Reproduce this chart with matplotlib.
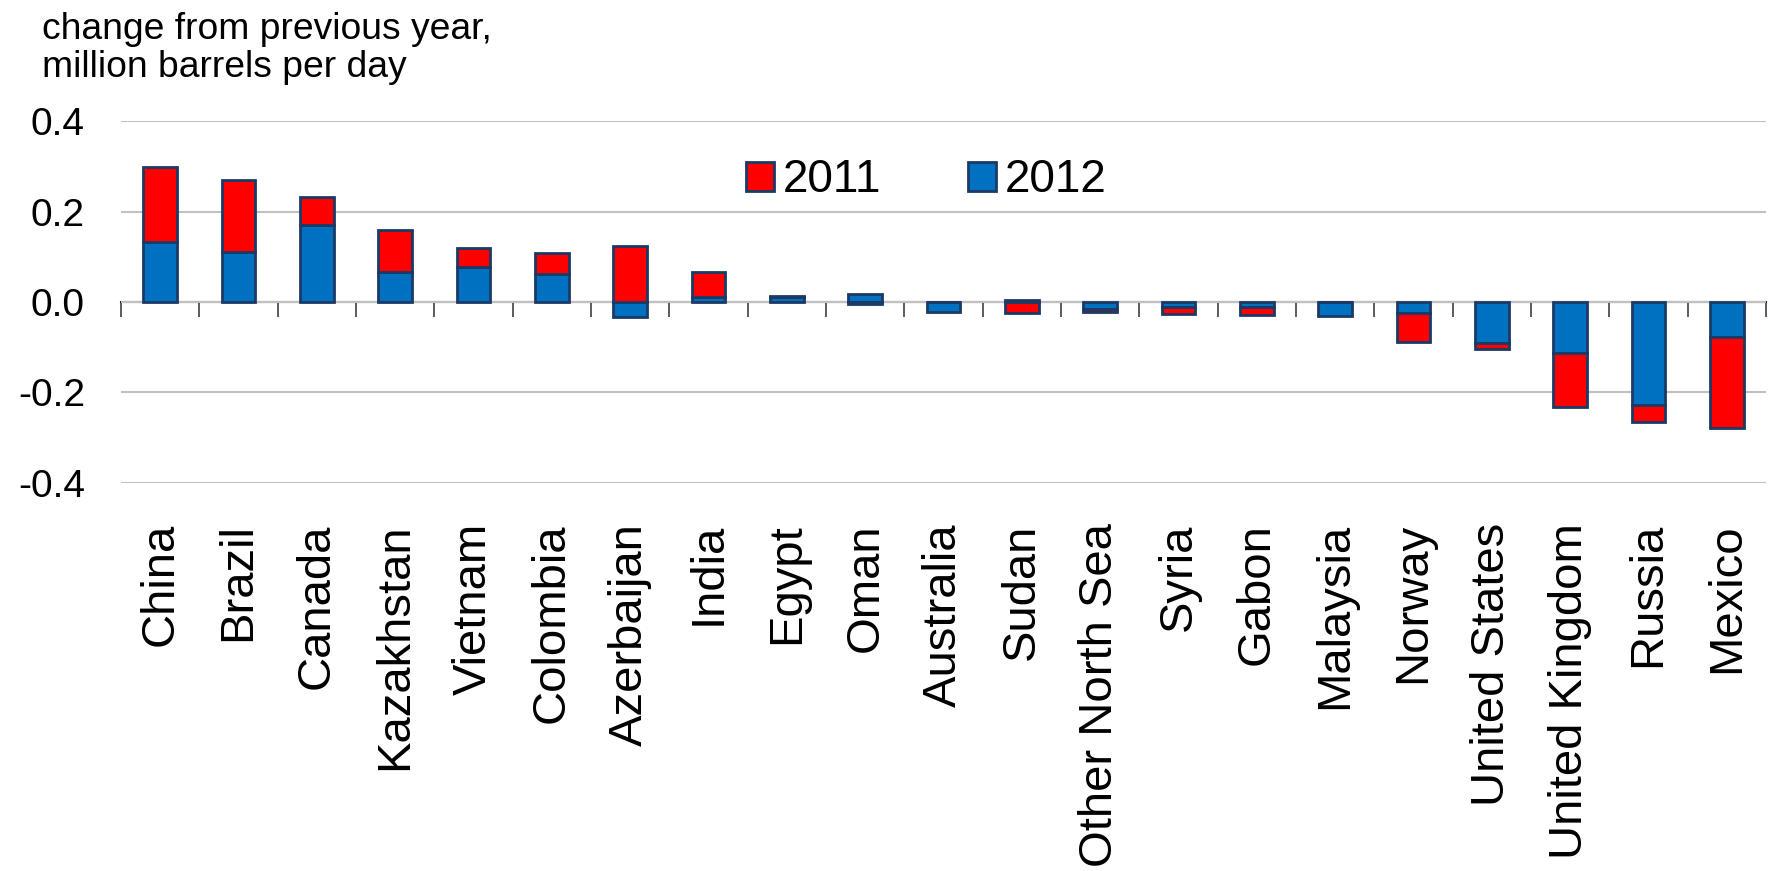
import numpy as np
import matplotlib
matplotlib.use("Agg")
import matplotlib.pyplot as plt

plt.rcParams['font.family'] = ['Liberation Sans', 'DejaVu Sans']

countries = ["China", "Brazil", "Canada", "Kazakhstan", "Vietnam", "Colombia", "Azerbaijan",
             "India", "Egypt", "Oman", "Australia", "Sudan", "Other North Sea", "Syria",
             "Gabon", "Malaysia", "Norway", "United States", "United Kingdom", "Russia", "Mexico"]
chg_2012 = [0.133, 0.111, 0.170, 0.067, 0.078, 0.063, -0.033,
            0.012, 0.010, 0.018, -0.021, 0.005, -0.016, -0.010,
            -0.010, -0.030, -0.025, -0.091, -0.112, -0.227, -0.078]
chg_2011 = [0.165, 0.158, 0.062, 0.092, 0.041, 0.046, 0.124,
            0.055, 0.004, -0.005, 0.0, -0.025, -0.006, -0.017,
            -0.018, 0.0, -0.063, -0.013, -0.119, -0.039, -0.201]
yticks = [-0.4, -0.2, 0.0, 0.2, 0.4]

RED = "#FF0000"
BLUE = "#0070C0"
EDGE = "#1B3A66"


def main():
    fig = plt.figure(figsize=(17.75, 8.71), dpi=100)
    ax = fig.add_axes([0.0682, 0.4455, 0.9268, 0.4155])

    x = np.arange(len(countries))
    v12 = np.array(chg_2012)
    v11 = np.array(chg_2011)
    # positives and negatives stack separately (Excel style)
    bottom11 = np.where(np.sign(v11) == np.sign(v12), v12, 0.0)

    width = 0.43
    ax.bar(x, v12, width, color=BLUE, edgecolor=EDGE, linewidth=2.0, label="2012", zorder=3)
    ax.bar(x, v11, width, bottom=bottom11, color=RED, edgecolor=EDGE, linewidth=2.0,
           label="2011", zorder=3)

    ax.set_xlim(-0.5, len(countries) - 0.5)
    ax.set_ylim(-0.4, 0.4)
    ax.set_yticks(yticks)
    ax.set_yticklabels(["{:.1f}".format(v) for v in yticks])
    ax.tick_params(axis='y', length=0, pad=26, labelsize=28)
    ax.yaxis.grid(True, color="#C0C0C0", linewidth=1.5, zorder=0)

    ax.set_xticks(x)
    ax.set_xticklabels(countries, rotation=90, fontsize=34)
    ax.tick_params(axis='x', length=0, pad=29)

    for s in ax.spines.values():
        s.set_visible(False)

    # zero line with category boundary ticks
    sec = ax.secondary_xaxis(0, transform=ax.transData)
    sec.set_xticks(np.arange(len(countries) + 1) - 0.5)
    sec.set_xticklabels([])
    sec.tick_params(axis='x', direction='out', length=11, width=1.2, color="#404040")
    sec.spines['bottom'].set_color("#202020")
    sec.spines['bottom'].set_linewidth(1.5)

    handles, labels = ax.get_legend_handles_labels()
    ax.legend(handles[::-1], labels[::-1], loc='center', bbox_to_anchor=(0.522, 0.793),
              bbox_transform=fig.transFigure, ncol=2, frameon=False, fontsize=33,
              handlelength=0.6, handleheight=0.6, handletextpad=0.2, columnspacing=1.9)

    fig.text(0.0237, 0.986, "change from previous year,\nmillion barrels per day",
             ha='left', va='top', fontsize=26.8, linespacing=1.12)

    fig.savefig("out.png", dpi=100)
    plt.close(fig)


if __name__ == "__main__":
    main()
